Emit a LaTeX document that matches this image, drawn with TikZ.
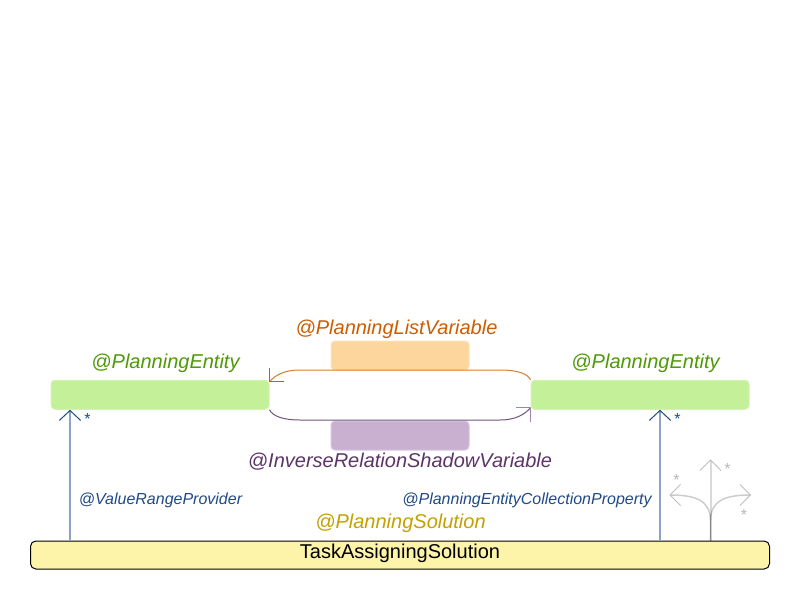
\documentclass[tikz,border=0pt]{standalone}
\usepackage{fontspec}
\setmainfont{Liberation Sans}
\usetikzlibrary{arrows.meta,calc}
\definecolor{entg}{HTML}{C5F09A}
\definecolor{entgb}{HTML}{D2F3B0}
\definecolor{orf}{HTML}{FDD69E}
\definecolor{puf}{HTML}{C9AFD0}
\definecolor{yef}{HTML}{FEF4A9}
\definecolor{bluet}{HTML}{204A87}
\definecolor{bluel}{HTML}{8CA3C5}
\definecolor{greent}{HTML}{4E9A06}
\definecolor{oranget}{HTML}{CE5C00}
\definecolor{purplet}{HTML}{5C3566}
\definecolor{goldt}{HTML}{C4A000}
\tikzset{
  x=0.75pt,y=-0.75pt,
  boxbase/.style={rounded corners=3pt,inner sep=0pt,line width=0.75pt},
  entity/.style={boxbase,draw=entgb,fill=entg,minimum width=163.5pt,minimum height=21.75pt},
  varbox/.style={boxbase,minimum width=103.5pt,minimum height=21.75pt},
  solbox/.style={rounded corners=4pt,inner sep=0pt,line width=0.75pt,draw=black,fill=yef,minimum width=554.25pt,minimum height=21pt},
  biglabel/.style={inner sep=0pt,font=\fontsize{15}{18}\selectfont\itshape},
  smalllabel/.style={inner sep=0pt,font=\fontsize{12}{15}\selectfont\itshape,text=bluet},
  star/.style={inner sep=0pt,font=\fontsize{12}{15}\selectfont},
  vhead/.style={-{Straight Barb[length=7.5pt,width=16pt,line width=0.75pt,color=#1]}},
  assoc/.style={line width=1.5pt,color=bluel},
  ghost/.style={line width=1.1pt,color=black,opacity=.2},
  legs/.style={line width=0.75pt,color=#1},
}
\begin{document}
\begin{tikzpicture}
\useasboundingbox (0,0) rectangle (800,600);
\fill[white] (0,0) rectangle (800,600);
\node[varbox,draw=orf!70!white,fill=orf] (listvar) at (400,355.5) {};
\node[varbox,draw=puf!70!white,fill=puf] (invvar) at (400,435.5) {};
\node[entity] (e1) at (160,394.75) {};
\node[entity] (e2) at (640,394.75) {};
\node[solbox] (sol) at (400,555) {};
\node[font=\fontsize{15}{18}\selectfont,inner sep=0pt] (soltext) at (400,553) {TaskAssigningSolution};
\node[biglabel,text=greent] (l1) at (165.5,363.5) {@PlanningEntity};
\node[biglabel,text=greent] (l2) at (645.5,363.5) {@PlanningEntity};
\node[biglabel,text=oranget] (l3) at (396.5,329.5) {@PlanningListVariable};
\node[biglabel,text=purplet] (l4) at (400,461.5) {@InverseRelationShadowVariable};
\node[biglabel,text=goldt] (l5) at (400.5,523.5) {@PlanningSolution};
\node[smalllabel] (l6) at (160.5,500) {@ValueRangeProvider};
\node[smalllabel] (l7) at (527,500) {@PlanningEntityCollectionProperty};
\node[star,text=bluet] (s1) at (87.5,419) {*};
\node[star,text=bluet] (s2) at (677.5,419) {*};
\node[star,text=black!28] (s3) at (676.5,480) {*};
\node[star,text=black!28] (s4) at (727.5,469) {*};
\node[star,text=black!28] (s5) at (744,515) {*};
% list and inverse connectors
\coordinate (ot1) at (500,370);
\coordinate (ot2) at (300,370);
\coordinate (pb1) at (300,420);
\coordinate (pb2) at (500,420);
\coordinate (otip) at ($(e1.north east)+(0,2)$);
\coordinate (ptip) at ($(e2.south west)+(0,-2)$);
\draw[line width=0.75pt,color=oranget!80!white]
  (e2.north west) .. controls ($(e2.north west)+(-3,-6)$) and ($(ot1)+(18,0)$) .. (ot1) -- (ot2)
  .. controls ($(ot2)+(-15,0)$) and ($(otip)+(6,-7)$) .. (otip);
\draw[line width=0.75pt,color=purplet!85!white]
  (e1.south east) .. controls ($(e1.south east)+(3,6)$) and ($(pb1)+(-18,0)$) .. (pb1) -- (pb2)
  .. controls ($(pb2)+(15,0)$) and ($(ptip)+(-6,7)$) .. (ptip);
\draw[legs=oranget] ($(otip)+(0,-14)$) -- (otip) -- ($(otip)+(14.5,0)$);
\draw[legs=puf!65!purplet] ($(ptip)+(0,14)$) -- (ptip) -- ($(ptip)+(-14.5,0)$);
% association arrows
\coordinate (ax1) at (70,450);
\coordinate (ax2) at (660,450);
\coordinate (gx) at (710.5,450);
\draw[assoc,vhead=bluet] (ax1 |- sol.north) -- (ax1 |- e1.south);
\draw[assoc,vhead=bluet] (ax2 |- sol.north) -- (ax2 |- e2.south);
% ghost fan
\coordinate (gtop) at (710.5,460);
\coordinate (gl) at (670,495);
\coordinate (gr) at (750.5,495);
\draw[ghost,line width=1.5pt,opacity=.15] (gx |- sol.north) -- (gtop);
\draw[ghost] (gx |- sol.north) -- (710.5,520) .. controls (710,500) and (695,495) .. (gl);
\draw[ghost] (gx |- sol.north) -- (710.5,520) .. controls (711,500) and (726,495) .. (gr);
\draw[line width=0.75pt,color=black!25] ($(gtop)+(-10.5,10.5)$) -- (gtop) -- ($(gtop)+(10.5,10.5)$);
\draw[line width=0.75pt,color=black!25] ($(gl)+(10.5,-10.5)$) -- (gl) -- ($(gl)+(10.5,10.5)$);
\draw[line width=0.75pt,color=black!25] ($(gr)+(-10.5,-10.5)$) -- (gr) -- ($(gr)+(-10.5,10.5)$);
\end{tikzpicture}
\end{document}
